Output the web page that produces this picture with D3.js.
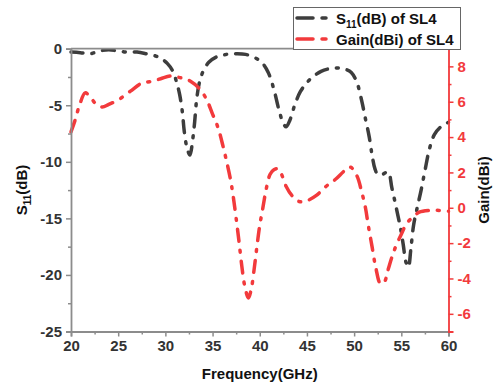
<!DOCTYPE html>
<html><head><meta charset="utf-8">
<script src="https://cdn.jsdelivr.net/npm/d3@7"></script>
<style>
body{margin:0;background:#fff}
text{font-family:"Liberation Sans",Arial,sans-serif;font-weight:bold}
</style>
</head><body>
<svg id="c" width="493" height="385"></svg>
<script>
// ---- data ----
const s11Freq = [20,21,22,23,24,25,26,27,28,29,29.6,30.2,30.8,31.2,31.5,31.8,32.0,32.3,32.6,32.9,33.1,33.3,33.6,34.0,34.6,35.5,36.5,37.5,38.5,39.5,40.2,40.9,41.5,42.0,42.5,42.8,43.2,43.7,44.3,45.0,45.6,46.5,47.5,48.3,49.0,49.7,50.3,50.8,51.2,51.6,51.9,52.2,52.5,53.0,53.6,54.0,54.5,54.9,55.2,55.5,55.75,56.0,56.3,56.7,57.1,57.5,58.0,58.5,59.2,60];
const s11Values = [-0.3,-0.35,-0.45,-0.2,-0.1,-0.2,-0.3,-0.3,-0.45,-0.65,-0.9,-1.3,-2.0,-3.0,-4.0,-5.6,-7.3,-8.8,-9.4,-8.0,-6.5,-4.6,-3.0,-2.0,-1.2,-0.7,-0.5,-0.45,-0.5,-0.8,-1.2,-2.1,-3.6,-5.3,-6.6,-6.9,-6.3,-5.0,-3.8,-3.0,-2.5,-2.0,-1.75,-1.7,-1.8,-2.1,-3.0,-4.6,-6.2,-7.8,-9.4,-10.6,-11.1,-11.1,-10.9,-12.3,-14.2,-15.8,-17.3,-18.9,-19.3,-17.8,-15.6,-14.0,-12.5,-10.8,-8.8,-7.6,-6.9,-6.5];
const gainFreq = [20,20.4,20.9,21.5,22.0,22.6,23.3,24.0,25.0,26.3,27.5,28.5,29.5,30.5,31.2,32.0,32.7,33.5,34.3,35.0,35.6,36.1,36.5,36.9,37.2,37.5,37.8,38.1,38.4,38.8,39.1,39.4,39.7,40.0,40.3,40.7,41.1,41.5,41.9,42.3,42.8,43.4,44.2,45.0,46.0,47.0,48.0,49.0,49.6,50.3,50.8,51.2,51.5,51.9,52.3,52.8,53.2,53.6,54.0,54.4,55.0,55.6,56.3,56.9,58.0,59.0,60];
const gainValues = [4.3,4.9,5.8,6.5,6.3,5.9,5.7,5.85,6.1,6.6,7.05,7.15,7.3,7.45,7.4,7.3,7.15,6.8,6.2,5.3,4.5,3.5,2.6,1.6,0.6,-0.6,-1.9,-3.3,-4.4,-5.1,-4.6,-3.5,-2.2,-1.0,-0.1,1.1,1.9,2.15,2.2,1.9,1.2,0.7,0.35,0.4,0.7,1.2,1.6,2.1,2.3,1.8,0.9,0.0,-1.0,-2.2,-3.4,-4.3,-4.2,-3.5,-2.8,-2.2,-1.5,-0.86,-0.5,-0.25,-0.15,-0.15,-0.2];
const xTicks = [20,25,30,35,40,45,50,55,60];
const xMinor = [22.5,27.5,32.5,37.5,42.5,47.5,52.5,57.5];
const s11Ticks = [0,-5,-10,-15,-20,-25];
const s11Minor = [-2.5,-7.5,-12.5,-17.5,-22.5];
const gainTicks = [-6,-4,-2,0,2,4,6,8];
const gainMinor = [-7,-5,-3,-1,1,3,5,7,9];
const seriesNames = ["(dB) of SL4","Gain(dBi) of SL4"];

// ---- layout ----
const L = 71, R = 448.5, T = 48.7, B = 331.5;
const cBlack = "#3d3d3d", cRed = "#f23a3c", cAxis = "#8c8c8c", cText = "#333";
const dash = "12,9,2,9";
const fmt = d => String(d);

const svg = d3.select("#c");
const x = d3.scaleLinear().domain([20,60]).range([L,R]);
const yL = d3.scaleLinear().domain([-25,0]).range([B,T]);
const yR = d3.scaleLinear().domain([-7,9]).range([B,T]);

// curves
const lineS = d3.line().x((d,i)=>x(s11Freq[i])).y(d=>yL(d)).curve(d3.curveCatmullRom.alpha(0.5));
const lineG = d3.line().x((d,i)=>x(gainFreq[i])).y(d=>yR(d)).curve(d3.curveCatmullRom.alpha(0.5));

svg.append("path").attr("d", lineS(s11Values)).attr("fill","none").attr("stroke",cBlack)
  .attr("stroke-width",3.5).attr("stroke-linecap","round").attr("stroke-dasharray",dash);
svg.append("path").attr("d", lineG(gainValues)).attr("fill","none").attr("stroke",cRed)
  .attr("stroke-width",3.5).attr("stroke-linecap","round").attr("stroke-dasharray",dash);

// axes
function styleAxis(g, col, txtCol){
  g.selectAll("path.domain").attr("stroke",col).attr("stroke-width",1.8);
  g.selectAll(".tick line").attr("stroke",col).attr("stroke-width",1.5);
  g.selectAll(".tick text").attr("fill",txtCol).style("font-size","15px").style("font-weight","bold")
    .style("font-family",'"Liberation Sans",Arial,sans-serif');
}
// top border
svg.append("line").attr("x1",L).attr("x2",R).attr("y1",T).attr("y2",T).attr("stroke",cAxis).attr("stroke-width",1.8);

const gx = svg.append("g").attr("transform",`translate(0,${B})`)
  .call(d3.axisBottom(x).tickValues(xTicks).tickSize(5).tickPadding(4).tickFormat(fmt));
styleAxis(gx,cAxis,cText);
const gxm = svg.append("g").attr("transform",`translate(0,${B})`)
  .call(d3.axisBottom(x).tickValues(xMinor).tickSize(3).tickFormat(""));
gxm.select("path.domain").remove(); styleAxis(gxm,cAxis,cText);

const gl = svg.append("g").attr("transform",`translate(${L},0)`)
  .call(d3.axisLeft(yL).tickValues(s11Ticks).tickSize(5).tickPadding(4).tickFormat(fmt));
styleAxis(gl,cAxis,cText);
const glm = svg.append("g").attr("transform",`translate(${L},0)`)
  .call(d3.axisLeft(yL).tickValues(s11Minor).tickSize(3).tickFormat(""));
glm.select("path.domain").remove(); styleAxis(glm,cAxis,cText);

const gr = svg.append("g").attr("transform",`translate(${R},0)`)
  .call(d3.axisRight(yR).tickValues(gainTicks).tickSize(5).tickPadding(4).tickFormat(fmt));
styleAxis(gr,cRed,cRed);
const grm = svg.append("g").attr("transform",`translate(${R},0)`)
  .call(d3.axisRight(yR).tickValues(gainMinor).tickSize(3).tickFormat(""));
grm.select("path.domain").remove(); styleAxis(grm,cRed,cRed);

// axis titles
svg.append("text").attr("x",(L+R)/2).attr("y",379).attr("text-anchor","middle")
  .attr("fill","#111").style("font-size","15px").text("Frequency(GHz)");
const tl = svg.append("text").attr("transform","translate(27,190) rotate(-90)").attr("text-anchor","middle")
  .attr("fill","#111").style("font-size","15px");
tl.append("tspan").text("S");
tl.append("tspan").attr("dy",4).style("font-size","10px").text("11");
tl.append("tspan").attr("dy",-4).text("(dB)");
svg.append("text").attr("transform","translate(489,190) rotate(-90)").attr("text-anchor","middle")
  .attr("fill","#111").style("font-size","15px").text("Gain(dBi)");

// legend
const lg = svg.append("g");
lg.append("rect").attr("x",293.5).attr("y",7.5).attr("width",167).attr("height",42)
  .attr("fill","#fff").attr("stroke","#666").attr("stroke-width",1);
[[cBlack,18],[cRed,39]].forEach(([c,yy])=>{
  lg.append("line").attr("x1",297).attr("x2",328).attr("y1",yy).attr("y2",yy)
    .attr("stroke",c).attr("stroke-width",3.5).attr("stroke-linecap","round").attr("stroke-dasharray","16,9,4,20");
});
const t1 = lg.append("text").attr("x",336).attr("y",23.5).attr("fill","#111").style("font-size","15px");
t1.append("tspan").text("S");
t1.append("tspan").attr("dy",4).style("font-size","10px").text("11");
t1.append("tspan").attr("dy",-4).text(seriesNames[0]);
lg.append("text").attr("x",336).attr("y",44.5).attr("fill","#111").style("font-size","15px").text(seriesNames[1]);
</script>
</body></html>
